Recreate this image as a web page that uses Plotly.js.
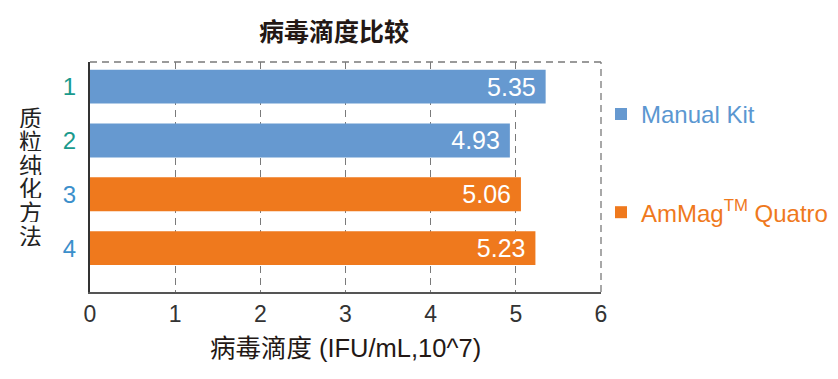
<!DOCTYPE html>
<html>
<head>
<meta charset="utf-8">
<script src="https://cdn.plot.ly/plotly-3.0.1.min.js"></script>
<style>html,body{margin:0;padding:0;background:#fff;}#chart{width:838px;height:379px;}</style>
</head>
<body>
<div id="chart"></div>
<script>
// ---- data ----
const categories = ['1', '2', '3', '4'];
const seriesNames = ['Manual Kit', 'AmMag<sup>TM</sup> Quatro'];
const manualCategories = ['1', '2'];
const manualValues = [5.35, 4.93];
const ammagCategories = ['3', '4'];
const ammagValues = [5.06, 5.23];
const xTickValues = [0, 1, 2, 3, 4, 5, 6];
const chartTitle = '病毒滴度比较';
const xTitle = '病毒滴度 (IFU/mL,10^7)';
const yTitleChars = ['质', '粒', '纯', '化', '方', '法'];

// ---- styles ----
const FONT = 'Liberation Sans, Arial, Noto Sans CJK SC, sans-serif';
const CJK = 'Noto Sans CJK SC, Liberation Sans, sans-serif';
const blue = '#6699D0';
const orange = '#EF791D';
const blueText = '#5B97D1';
const tickColors = ['#1A9A8D', '#1A9A8D', '#3B8FCB', '#3B8FCB'];
const nb = '\u00a0';

const traces = [
  {
    type: 'bar', orientation: 'h',
    y: manualCategories, x: manualValues,
    name: '<span style="color:' + blueText + '">' + seriesNames[0] + '</span>',
    legendgroup: 'a',
    marker: {color: blue},
    text: manualValues.map(v => v.toFixed(2) + nb),
    textposition: 'inside', insidetextanchor: 'end', constraintext: 'none',
    textfont: {color: '#ffffff', size: 25, family: FONT},
    hoverinfo: 'x+y'
  },
  {
    type: 'bar', orientation: 'h',
    y: ammagCategories, x: ammagValues,
    name: '<span style="color:' + orange + '">' + seriesNames[1] + '</span>',
    legendgroup: 'b',
    marker: {color: orange},
    text: ammagValues.map(v => v.toFixed(2) + nb),
    textposition: 'inside', insidetextanchor: 'end', constraintext: 'none',
    textfont: {color: '#ffffff', size: 25, family: FONT},
    hoverinfo: 'x+y'
  }
];

const plotTop = 62, plotBottom = 292, plotH = plotBottom - plotTop;
const annotations = yTitleChars.map((ch, i) => ({
  text: ch, xref: 'paper', yref: 'paper',
  x: (30 - 90) / 511, xanchor: 'center',
  y: (plotBottom - (116 + 23.6 * i)) / plotH, yanchor: 'middle',
  height: 23, valign: 'middle',
  showarrow: false,
  font: {family: CJK, size: 23, color: '#222222'}
}));

const dashLine = {color: '#7a7a7a', width: 1.3, dash: '7px,5px'};
const shapes = [
  {type: 'line', xref: 'paper', yref: 'paper', x0: 0, x1: 1, y0: 1, y1: 1, line: dashLine, layer: 'below'},
  {type: 'line', xref: 'paper', yref: 'paper', x0: 1, x1: 1, y0: 0, y1: 1, line: dashLine, layer: 'below'}
];

const layout = {
  width: 838, height: 379,
  margin: {l: 90, r: 237, t: 62, b: 87, pad: 0, autoexpand: false},
  paper_bgcolor: '#ffffff', plot_bgcolor: '#ffffff',
  font: {family: FONT, color: '#333333'},
  barmode: 'overlay',
  bargap: 0.37,
  showlegend: true,
  title: {
    text: chartTitle,
    font: {family: CJK, size: 25, color: '#231815', weight: 'bold'},
    xref: 'container', x: 334 / 838, xanchor: 'center',
    yref: 'container', y: 1 - 32 / 379, yanchor: 'middle'
  },
  xaxis: {
    range: [0, 6],
    tickvals: xTickValues,
    ticktext: xTickValues.map(String),
    showgrid: true, gridcolor: '#7a7a7a', gridwidth: 1.3, griddash: '7px,5px',
    zeroline: false,
    showline: true, linecolor: '#555555', linewidth: 2,
    ticks: '', 
    tickfont: {family: FONT, size: 23, color: '#333333'},
    title: {text: xTitle, font: {family: FONT, size: 25.5, color: '#231815'}, standoff: 14},
    fixedrange: true
  },
  yaxis: {
    type: 'category',
    categoryorder: 'array', categoryarray: categories,
    range: [3.815, -0.457],
    tickvals: categories,
    ticktext: categories.map((c, i) => '<span style="color:' + tickColors[i] + '">' + c + '</span>'),
    tickfont: {family: FONT, size: 24},
    showgrid: false, zeroline: false,
    showline: true, linecolor: '#333333', linewidth: 2,
    ticks: 'outside', ticklen: 7, tickcolor: 'rgba(0,0,0,0)',
    fixedrange: true
  },
  legend: {
    x: 1.0, xanchor: 'left', y: 0.87, yanchor: 'top',
    traceorder: 'grouped', tracegroupgap: 64,
    font: {family: FONT, size: 24},
    bgcolor: 'rgba(0,0,0,0)', borderwidth: 0
  },
  annotations: annotations,
  shapes: shapes
};

Plotly.newPlot('chart', traces, layout, {displayModeBar: false, staticPlot: true});
</script>
</body>
</html>
